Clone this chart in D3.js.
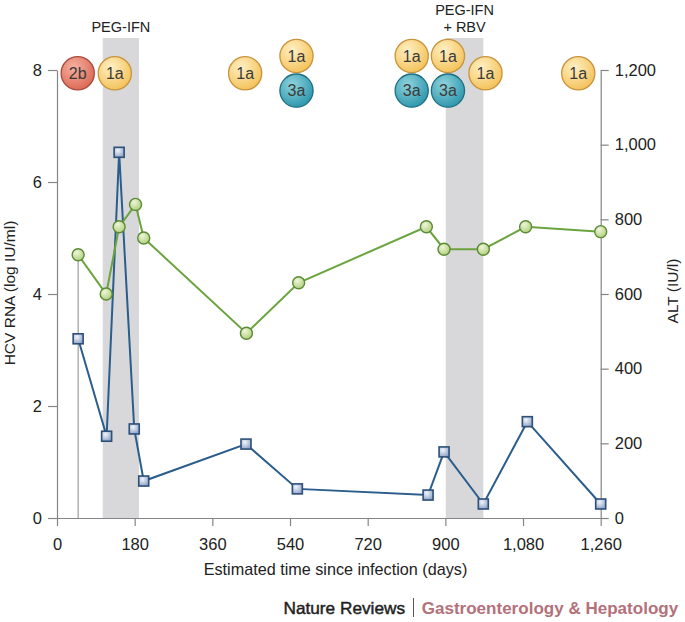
<!DOCTYPE html>
<html>
<head>
<meta charset="utf-8">
<script src="https://cdn.jsdelivr.net/npm/d3@7/dist/d3.min.js"></script>
<style>
  html, body { margin: 0; padding: 0; background: #fff; }
  svg { display: block; font-family: "Liberation Sans", Arial, sans-serif; }
</style>
</head>
<body>
<svg id="chart" width="685" height="622"></svg>
<script>
// ---- data ----
const hcvDays = [49, 115, 144, 179, 201, 438, 557, 860, 897, 988, 1090, 1260];
const hcvLog  = [3.2, 1.46, 6.53, 1.59, 0.66, 1.32, 0.52, 0.41, 1.18, 0.25, 1.72, 0.25];
const altDays = [49, 114, 144, 182, 201, 439, 560, 856, 897, 988, 1086, 1260];
const altVals = [705, 600, 780, 840, 750, 495, 630, 780, 720, 720, 780, 767];

const bandStart  = [106, 901];
const bandEnd    = [190, 988];
const bandLabels = [["PEG-IFN"], ["PEG-IFN", "+ RBV"]];

const genoDays   = [48, 134, 436, 555, 555, 822, 822, 906, 906, 993, 1208];
const genoLabels = ["2b", "1a", "1a", "1a", "3a", "1a", "3a", "1a", "3a", "1a", "1a"];
const genoRow    = [0, 0, 0, -1, 1, -1, 1, -1, 1, 0, 0];

const xTicks = [0, 180, 360, 540, 720, 900, 1080, 1260];
const yLeftTicks = [0, 2, 4, 6, 8];
const yRightTicks = [0, 200, 400, 600, 800, 1000, 1200];

// ---- scales ----
const svg = d3.select("#chart");
const x = d3.scaleLinear().domain([0, 1260]).range([57, 600.7]);
const yL = d3.scaleLinear().domain([0, 8]).range([518, 70]);
const yR = d3.scaleLinear().domain([0, 1200]).range([518, 70]);

const defs = svg.append("defs");
function radial(id, c0, c1) {
  const g = defs.append("radialGradient").attr("id", id)
    .attr("cx", "38%").attr("cy", "32%").attr("r", "70%");
  g.append("stop").attr("offset", "0%").attr("stop-color", c0);
  g.append("stop").attr("offset", "100%").attr("stop-color", c1);
}
radial("g1a", "#fff0c4", "#f4c25a");
radial("g3a", "#8fd3dd", "#2e97ad");
radial("g2b", "#f5b0a0", "#dc6a55");
radial("gGreen", "#eef6d8", "#b2d07e");
radial("gBlue", "#f2f5fb", "#8fa5c8");

// ---- treatment bands ----
const bands = bandStart.map((s, i) => ({ s, e: bandEnd[i], label: bandLabels[i] }));
svg.selectAll("rect.band").data(bands).join("rect")
  .attr("class", "band")
  .attr("x", d => x(d.s)).attr("width", d => x(d.e) - x(d.s))
  .attr("y", 38).attr("height", d => yL(0) - 38)
  .attr("fill", "#d8d8da");

bands.forEach(b => {
  const cx = (x(b.s) + x(b.e)) / 2;
  const n = b.label.length;
  b.label.forEach((t, j) => {
    svg.append("text").attr("x", cx).attr("y", 31.5 - (n - 1 - j) * 17)
      .attr("text-anchor", "middle").attr("font-size", 14.5).attr("fill", "#222")
      .text(t);
  });
});

// thin vertical line at first sample
svg.append("line")
  .attr("x1", x(hcvDays[0])).attr("x2", x(hcvDays[0]))
  .attr("y1", yR(altVals[0])).attr("y2", yL(0))
  .attr("stroke", "#8a8a8a").attr("stroke-width", 1);

// ---- axes ----
const fmt = d3.format(",");
const axStyle = g => {
  g.selectAll("path.domain").attr("stroke", "#858585").attr("stroke-width", 1.2);
  g.selectAll(".tick line").attr("stroke", "#858585").attr("stroke-width", 1.2);
  g.selectAll(".tick text").attr("fill", "#222").attr("font-size", 16.5)
    .attr("font-family", "'Liberation Sans', Arial, sans-serif");
};
svg.append("g").attr("transform", `translate(0,${yL(0)})`)
  .call(d3.axisBottom(x).tickValues(xTicks).tickFormat(fmt).tickSize(8).tickSizeOuter(0).tickPadding(12))
  .call(axStyle);
svg.append("g").attr("transform", `translate(${x(0)},0)`)
  .call(d3.axisLeft(yL).tickValues(yLeftTicks).tickSize(9).tickSizeOuter(0).tickPadding(6))
  .call(axStyle);
svg.append("g").attr("transform", `translate(${x(1260)},0)`)
  .call(d3.axisRight(yR).tickValues(yRightTicks).tickFormat(fmt).tickSize(8).tickSizeOuter(0).tickPadding(6))
  .call(axStyle);

// axis labels
svg.append("text").attr("x", 335.5).attr("y", 575).attr("text-anchor", "middle")
  .attr("font-size", 16.2).attr("fill", "#222").text("Estimated time since infection (days)");
svg.append("text").attr("transform", `translate(15,${(yL(0) + yL(8)) / 2 - 1}) rotate(-90)`)
  .attr("text-anchor", "middle").attr("font-size", 15.5).attr("fill", "#222").text("HCV RNA (log IU/ml)");
svg.append("text").attr("transform", `translate(678,${(yR(0) + yR(1200)) / 2 - 3}) rotate(-90)`)
  .attr("text-anchor", "middle").attr("font-size", 15.5).attr("fill", "#222").text("ALT (IU/l)");

// ---- series ----
const hcv = hcvDays.map((d, i) => [d, hcvLog[i]]);
const alt = altDays.map((d, i) => [d, altVals[i]]);

svg.append("path").datum(hcv)
  .attr("d", d3.line().x(d => x(d[0])).y(d => yL(d[1])))
  .attr("fill", "none").attr("stroke", "#2a5d8c").attr("stroke-width", 2);
svg.append("path").datum(alt)
  .attr("d", d3.line().x(d => x(d[0])).y(d => yR(d[1])))
  .attr("fill", "none").attr("stroke", "#6ba43e").attr("stroke-width", 2);

const sq = 10;
svg.selectAll("rect.hcv").data(hcv).join("rect")
  .attr("class", "hcv")
  .attr("x", d => x(d[0]) - sq / 2).attr("y", d => yL(d[1]) - sq / 2)
  .attr("width", sq).attr("height", sq)
  .attr("fill", "url(#gBlue)").attr("stroke", "#2d4f78").attr("stroke-width", 1.6);

svg.selectAll("circle.alt").data(alt).join("circle")
  .attr("class", "alt")
  .attr("cx", d => x(d[0])).attr("cy", d => yR(d[1])).attr("r", 6)
  .attr("fill", "url(#gGreen)").attr("stroke", "#5a8a36").attr("stroke-width", 1.4);

// ---- genotype circles ----
const genoFill = { "1a": "url(#g1a)", "3a": "url(#g3a)", "2b": "url(#g2b)" };
const genoStroke = { "1a": "#c8943e", "3a": "#1f6e80", "2b": "#a94c3d" };
const geno = genoDays.map((d, i) => ({ d, lab: genoLabels[i], row: genoRow[i] }));
const gy = r => yL(8) + 3.3 + r * 17.3;
const gg = svg.selectAll("g.geno").data(geno).join("g").attr("class", "geno")
  .attr("transform", d => `translate(${x(d.d)},${gy(d.row)})`);
gg.append("circle").attr("r", 16.6)
  .attr("fill", d => genoFill[d.lab]).attr("stroke", d => genoStroke[d.lab]).attr("stroke-width", 1.3);
gg.append("text").attr("text-anchor", "middle").attr("dy", "0.36em")
  .attr("font-size", 16).attr("fill", "#3a3a3a").text(d => d.lab);

// ---- footer ----
svg.append("text").attr("x", 283.5).attr("y", 613.5)
  .attr("font-size", 16.5).attr("fill", "#1e1e1e")
  .attr("stroke", "#1e1e1e").attr("stroke-width", 0.45)
  .attr("textLength", 121.5).attr("lengthAdjust", "spacingAndGlyphs")
  .text("Nature Reviews");
svg.append("line").attr("x1", 413.5).attr("x2", 413.5).attr("y1", 598).attr("y2", 617)
  .attr("stroke", "#555").attr("stroke-width", 1);
svg.append("text").attr("x", 421.7).attr("y", 613.5)
  .attr("font-size", 16.5).attr("font-weight", "bold").attr("fill", "#b3717a")
  .attr("textLength", 256.5).attr("lengthAdjust", "spacingAndGlyphs")
  .text("Gastroenterology & Hepatology");
</script>
</body>
</html>
